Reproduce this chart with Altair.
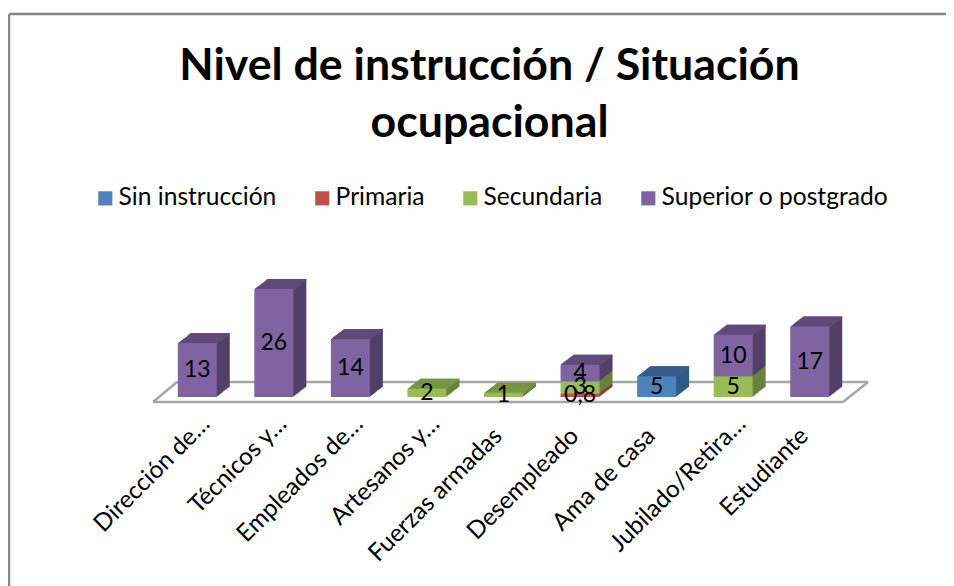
import altair as alt
import pandas as pd

categories = ["Dirección de…", "Técnicos y…", "Empleados de…", "Artesanos y…", "Fuerzas armadas",
              "Desempleado", "Ama de casa", "Jubilado/Retira…", "Estudiante"]
series_names = ["Sin instrucción", "Primaria", "Secundaria", "Superior o postgrado"]
sin_instruccion = [0, 0, 0, 0, 0, 0, 5, 0, 0]
primaria = [0, 0, 0, 0, 0, 0.8, 0, 0, 0]
secundaria = [0, 0, 0, 2, 1, 3, 0, 5, 0]
superior = [13, 26, 14, 0, 0, 4, 0, 10, 17]
front_colors = ["#4F81BD", "#C0504D", "#9BBB59", "#8064A2"]
side_colors = ["#2F5A86", "#8E3A38", "#6A8140", "#534068"]
top_colors = ["#385D8A", "#A03F3C", "#769645", "#604A7B"]

rows = []
for i, cat in enumerate(categories):
    base = 0
    stack = [sin_instruccion[i], primaria[i], secundaria[i], superior[i]]
    top_idx = max(j for j, v in enumerate(stack) if v > 0)
    for j, v in enumerate(stack):
        if v > 0:
            rows.append(dict(cat=cat, serie=series_names[j], y0=base, y1=base + v, mid=base + v / 2,
                             label=str(v).replace(".", ","), side=side_colors[j], top=top_colors[j],
                             y1thin=base + v - 0.35, is_top=j == top_idx))
            base += v
df = pd.DataFrame(rows)

W, H = 689, 166
BAR = 39
DEPTH_X, DEPTH_Y = 13, 10
ORIGIN = alt.Data(values=[{}])
yscale = alt.Scale(domain=[0, 40], nice=False)

x = alt.X("cat:N", sort=categories, scale=alt.Scale(paddingInner=0, paddingOuter=0, round=False),
          axis=alt.Axis(title=None, domain=False, ticks=False, labelAngle=315, labelAlign="right",
                        labelBaseline="middle", labelFontSize=24.3, labelFont="Lato", labelColor="#000000",
                        labelOffset=alt.expr("test(/…$/, datum.label) ? 9 : -5"),
                        labelPadding=alt.expr("test(/…$/, datum.label) ? 23 : 35"),
                        labelLimit=400, grid=False, labelOverlap=False))
y = alt.Y("y0:Q", scale=yscale, axis=None)


def seg(x1, y1, x2, y2, color, width):
    return alt.Chart(ORIGIN).mark_rule(color=color, strokeWidth=width).encode(
        x=alt.value(x1), y=alt.value(y1), x2=alt.value(x2), y2=alt.value(y2))


layers = [
    seg(-150, -217, 787, -217, "#868686", 2.5),
    seg(-150, -217, -150, 359, "#868686", 2.5),
    seg(-6, 171, 18, 151, "#A6A6A6", 2.5),
    seg(18, 151, 709, 151, "#A6A6A6", 2.5),
    seg(709, 151, 684, 171, "#A6A6A6", 2.5),
    seg(684, 171, -6, 171, "#A6A6A6", 2.5),
]

base = alt.Chart(df)
for k in range(DEPTH_X, 0, -1):
    dx, dy = k, -k * DEPTH_Y / DEPTH_X
    layers.append(base.mark_bar(size=BAR, xOffset=dx, yOffset=dy, y2Offset=dy).encode(
        x=x, y=y, y2="y1:Q", color=alt.Color("side:N", scale=None)))
for k in range(DEPTH_X, 0, -1):
    dx, dy = k, -k * DEPTH_Y / DEPTH_X
    layers.append(base.transform_filter("datum.is_top").mark_bar(size=BAR, xOffset=dx, yOffset=dy, y2Offset=dy).encode(
        x=x, y=alt.Y("y1thin:Q", scale=yscale, axis=None), y2="y1:Q",
        color=alt.Color("top:N", scale=None)))

front = base.mark_bar(size=BAR).encode(
    x=x, y=y, y2="y1:Q",
    color=alt.Color("serie:N", scale=alt.Scale(domain=series_names, range=front_colors),
                    legend=alt.Legend(title=None, orient="none", direction="horizontal", legendX=-66, legendY=-45,
                                      symbolType="square", symbolSize=200, symbolStrokeWidth=0,
                                      labelFontSize=24.6, labelFont="Lato", labelColor="#000000",
                                      columnPadding=33, labelOffset=1, labelLimit=400, columns=4)))
labels = base.mark_text(fontSize=23, font="Lato", color="#000000", baseline="middle", align="center").encode(
    x=x, y=alt.Y("mid:Q", scale=yscale, axis=None), text="label:N")

chart = alt.layer(*layers, front, labels).resolve_scale(color="independent").properties(
    width=W, height=H,
    padding={"left": 151, "top": 223, "right": 98, "bottom": 189},
    autosize=alt.AutoSizeParams(type="none"),
    title=alt.TitleParams(text=["Nivel de instrucción / Situación", "ocupacional"], font="Lato", fontSize=44.7,
                          fontWeight="bold", color="#000000", anchor="middle", dx=-14, offset=-134, lineHeight=57),
).configure_view(stroke=None)

chart.save("out.html", embed_options={"renderer": "svg", "actions": False})
